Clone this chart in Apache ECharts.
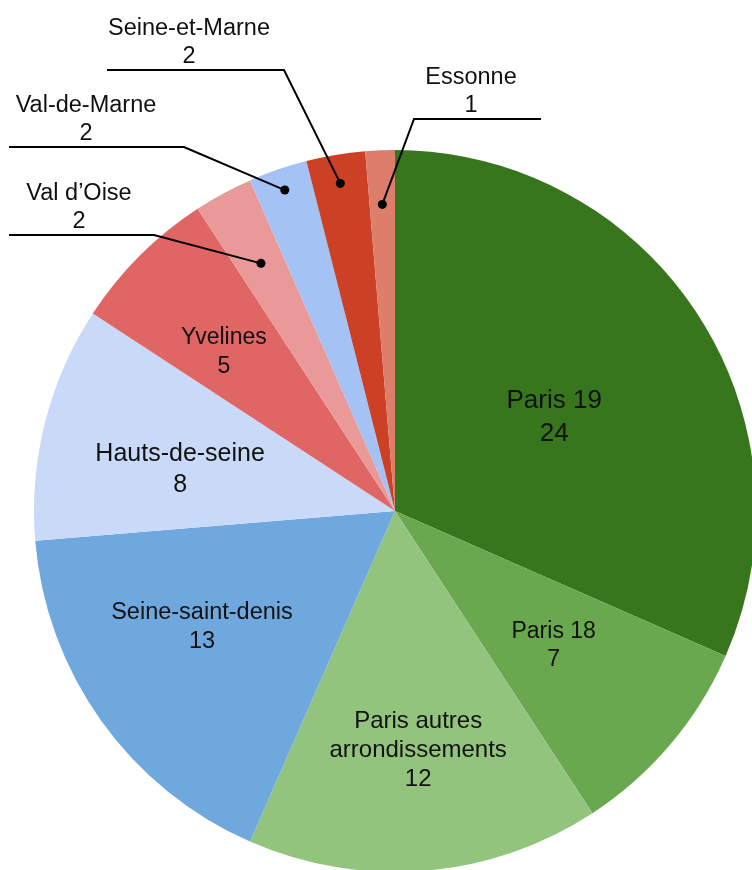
<!DOCTYPE html>
<html>
<head>
<meta charset="utf-8">
<script src="https://cdn.jsdelivr.net/npm/echarts@6/dist/echarts.min.js"></script>
<style>
  html, body { margin: 0; padding: 0; background: #fff; }
  #chart { width: 752px; height: 870px; }
</style>
</head>
<body>
<div id="chart"></div>
<script>
// slices, clockwise from 12 o'clock
var names = ['Paris 19', 'Paris 18', 'Paris autres\narrondissements', 'Seine-saint-denis',
  'Hauts-de-seine', 'Yvelines', 'Val d\u2019Oise', 'Val-de-Marne', 'Seine-et-Marne', 'Essonne'];
var values = [24, 7, 12, 13, 8, 5, 2, 2, 2, 1];
var colors = ['#38761d', '#6aa84f', '#93c47d', '#6fa8dc', '#c9daf8',
  '#e06666', '#ea9999', '#a4c2f4', '#cc4125', '#dd7e6b'];

// pie geometry (px)
var CX = 395, CY = 511, R = 361;

// labels inside the slice: distance (part of R), angle nudge (deg), font size, line height
var inside = {
  0: { f: 0.512, da: 2.6, size: 26, lh: 33 },
  1: { f: 0.576, da: 0, size: 23, lh: 28 },
  2: { f: 0.665, da: -0.8, size: 24, lh: 29 },
  3: { f: 0.624, da: 4.5, size: 23.5, lh: 29 },
  4: { f: 0.606, da: -3.4, size: 25, lh: 31 },
  5: { f: 0.647, da: -2.1, size: 23, lh: 29 }
};
// callouts: text centre x, leader line y, elbow x, line end x, dot distance (part of R)
var callouts = {
  6: { x: 79, lineY: 235, elbowX: 154, endX: 9, dot: 0.78 },
  7: { x: 86, lineY: 147, elbowX: 184, endX: 9, dot: 0.94 },
  8: { x: 189, lineY: 70, elbowX: 284, endX: 107, dot: 0.92 },
  9: { x: 471, lineY: 119, elbowX: 414, endX: 541, dot: 0.85 }
};

var total = values.reduce(function (a, b) { return a + b; }, 0);
function midAngle(i) {
  var s = 0;
  for (var j = 0; j < i; j++) s += values[j];
  return (s + values[i] / 2) / total * Math.PI * 2;
}
function polar(i, f, da) {
  var a = midAngle(i) + (da || 0) * Math.PI / 180;
  return [CX + R * f * Math.sin(a), CY - R * f * Math.cos(a)];
}

var font = 'Liberation Sans, Arial, sans-serif';

var pieData = values.map(function (v, i) {
  var item = { name: names[i], value: v, itemStyle: { color: colors[i] } };
  if (inside[i]) {
    item.label = { position: 'inside', fontSize: inside[i].size, lineHeight: inside[i].lh };
  } else {
    item.label = { position: 'outside', fontSize: 23.5, lineHeight: 28 };
  }
  return item;
});

var chart = echarts.init(document.getElementById('chart'), null, { renderer: 'canvas' });
chart.setOption({
  animation: false,
  series: [
    {
      type: 'pie',
      center: [CX, CY],
      radius: [0, R],
      startAngle: 90,
      clockwise: true,
      avoidLabelOverlap: false,
      silent: true,
      itemStyle: { borderWidth: 0 },
      label: {
        show: true,
        formatter: '{b}\n{c}',
        color: '#111',
        fontFamily: font,
        align: 'center'
      },
      labelLine: { show: false },
      labelLayout: function (p) {
        var i = p.dataIndex;
        if (inside[i]) {
          var c = polar(i, inside[i].f, inside[i].da);
          return { x: c[0], y: c[1], align: 'center', verticalAlign: 'middle' };
        }
        var o = callouts[i];
        return { x: o.x, y: o.lineY + 1, align: 'center', verticalAlign: 'bottom' };
      },
      data: pieData
    },
    {
      // leader lines with a dot at the slice end
      type: 'custom',
      coordinateSystem: 'none',
      silent: true,
      z: 5,
      data: Object.keys(callouts).map(function (k) { return [Number(k)]; }),
      renderItem: function (params, api) {
        var i = api.value(0);
        var o = callouts[i];
        var p = polar(i, o.dot);
        return {
          type: 'group',
          children: [
            {
              type: 'polyline',
              shape: { points: [p, [o.elbowX, o.lineY], [o.endX, o.lineY]] },
              style: { stroke: '#000', lineWidth: 2, fill: null }
            },
            { type: 'circle', shape: { cx: p[0], cy: p[1], r: 4.5 }, style: { fill: '#000' } }
          ]
        };
      }
    }
  ]
});
</script>
</body>
</html>
